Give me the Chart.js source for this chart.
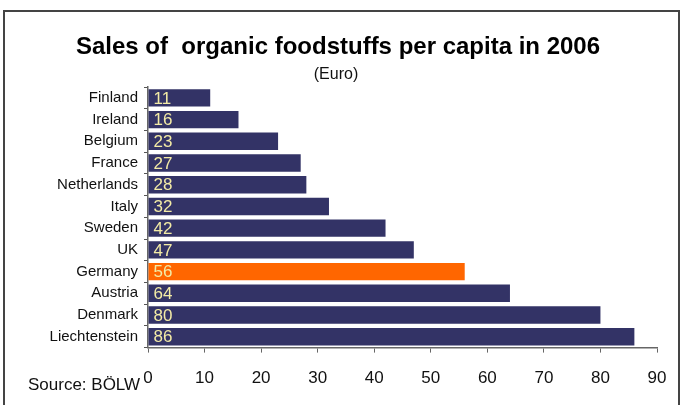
<!DOCTYPE html>
<html>
<head>
<meta charset="utf-8">
<script src="https://cdn.jsdelivr.net/npm/chart.js@4"></script>
<style>
  html, body { margin: 0; padding: 0; background: #fff; }
  #wrap { width: 683px; height: 405px; position: relative; }
</style>
</head>
<body>
<div id="wrap"><canvas id="c" width="683" height="405"></canvas></div>
<script>
const countries = ['Finland', 'Ireland', 'Belgium', 'France', 'Netherlands', 'Italy',
  'Sweden', 'UK', 'Germany', 'Austria', 'Denmark', 'Liechtenstein'];
const salesPerCapita = [11, 16, 23, 27, 28, 32, 42, 47, 56, 64, 80, 86];
const highlightCountry = 'Germany';
const xTicks = [0, 10, 20, 30, 40, 50, 60, 70, 80, 90];
const titleText = 'Sales of  organic foodstuffs per capita in 2006';
const unitText = '(Euro)';
const sourceText = 'Source: BÖLW';

const NAVY = '#333366';
const ORANGE = '#ff6600';
const LABEL_YELLOW = '#f3eba6';
const FONT = '"Liberation Sans", Arial, sans-serif';

// Frame, title block, value labels inside bars, and the source note
const decorations = {
  id: 'decorations',
  beforeDraw(chart) {
    const ctx = chart.ctx;
    ctx.save();
    ctx.strokeStyle = '#444';
    ctx.lineWidth = 2;
    ctx.beginPath();
    ctx.moveTo(4, 420);
    ctx.lineTo(4, 11);
    ctx.lineTo(679, 11);
    ctx.lineTo(679, 420);
    ctx.stroke();
    ctx.restore();
  },
  afterDatasetsDraw(chart) {
    const ctx = chart.ctx;
    const meta = chart.getDatasetMeta(0);
    ctx.save();
    ctx.font = '17px ' + FONT;
    ctx.fillStyle = LABEL_YELLOW;
    ctx.textBaseline = 'middle';
    ctx.textAlign = 'left';
    meta.data.forEach((bar, i) => {
      ctx.fillText(String(salesPerCapita[i]), bar.base + 5, bar.y + 1);
    });
    ctx.restore();
  },
  afterDraw(chart) {
    const ctx = chart.ctx;
    ctx.save();
    ctx.fillStyle = '#000';
    ctx.textBaseline = 'middle';
    ctx.textAlign = 'center';
    ctx.font = 'bold 24px ' + FONT;
    ctx.fillText(titleText, 338, 47);
    ctx.fillStyle = '#111';
    ctx.font = '16px ' + FONT;
    ctx.fillText(unitText, 336, 75);
    ctx.textAlign = 'left';
    ctx.font = '17px ' + FONT;
    ctx.fillText(sourceText, 28, 385);
    ctx.restore();
  }
};

new Chart(document.getElementById('c'), {
  type: 'bar',
  data: {
    labels: countries,
    datasets: [{
      data: salesPerCapita,
      backgroundColor: countries.map(c => c === highlightCountry ? ORANGE : NAVY),
      borderWidth: 0,
      categoryPercentage: 0.8,
      barPercentage: 1.0
    }]
  },
  options: {
    indexAxis: 'y',
    responsive: false,
    animation: false,
    layout: { padding: { left: 0, right: 26, top: 87, bottom: 0 } },
    plugins: {
      legend: { display: false },
      tooltip: { enabled: false },
      title: { display: false }
    },
    scales: {
      x: {
        min: 0,
        max: 90,
        afterBuildTicks(scale) { scale.ticks = xTicks.map(v => ({ value: v })); },
        grid: { display: true, drawOnChartArea: false, drawTicks: true, tickLength: 5, color: '#666' },
        border: { display: true, color: '#666', width: 1.5 },
        ticks: { color: '#111', font: { family: FONT, size: 17 }, padding: 16 }
      },
      y: {
        afterFit(scale) { scale.width = 148; },
        grid: { display: true, drawOnChartArea: false, drawTicks: true, tickLength: 4, offset: true, color: '#555' },
        border: { display: true, color: '#666', width: 1.5 },
        ticks: { color: '#111', font: { family: FONT, size: 15 }, padding: 6 }
      }
    }
  },
  plugins: [decorations]
});
</script>
</body>
</html>
